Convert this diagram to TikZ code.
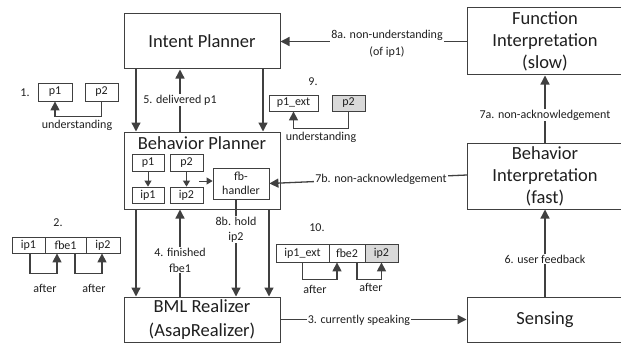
\documentclass[tikz,border=0pt]{standalone}
\usepackage{fontspec}
\setmainfont{Carlito}
\usetikzlibrary{arrows.meta,calc}
\definecolor{ln}{HTML}{404040}
\definecolor{gfill}{HTML}{D9D9D9}
\begin{document}
\begin{tikzpicture}[x=1pt,y=-1pt,
  bigbox/.style={draw=ln, line width=1pt, fill=white, inner sep=0pt, font=\fontsize{18.5}{22}\selectfont, align=center, text=black!88},
  smallbox/.style={draw=ln, line width=0.8pt, inner sep=0pt, font=\fontsize{12}{14}\selectfont, text=black!88},
  lbl/.style={font=\fontsize{12}{15}\selectfont, align=center, fill=white, inner sep=1pt, text=black!88},
  txt/.style={font=\fontsize{12}{15}\selectfont, align=center, inner sep=0pt, text=black!88},
  arr/.style={draw=ln, line width=1.3pt, -{Triangle[length=9pt,width=9pt]}},
  sarr/.style={draw=ln, line width=1pt, -{Triangle[length=6pt,width=7pt]}},
  conn/.style={draw=ln, line width=1.3pt},
]
\useasboundingbox (0,0) rectangle (621,345);

% main boxes
\node[bigbox, minimum width=156pt, minimum height=55pt] (ip) at (202,41.5) {Intent Planner};
\node[bigbox, minimum width=156pt, minimum height=77pt] (bp) at (202,170.5) {};
\node[txt, font=\fontsize{18.5}{22}\selectfont] (bpt) at (202,143) {Behavior Planner};
\node[bigbox, minimum width=156pt, minimum height=45pt, font=\fontsize{18.5}{24}\selectfont] (bml) at (202,319.5) {BML Realizer\\(AsapRealizer)};
\node[bigbox, minimum width=156pt, minimum height=67pt] (fi) at (545,41.5) {Function\\Interpretation\\(slow)};
\node[bigbox, minimum width=156pt, minimum height=66pt] (bi) at (545,176) {Behavior\\Interpretation\\(fast)};
\node[bigbox, minimum width=156pt, minimum height=45pt] (se) at (545,319.5) {Sensing};

% inside behavior planner
\node[smallbox, minimum width=32pt, minimum height=17pt] (p1) at (148,162.5) {p1};
\node[smallbox, minimum width=33pt, minimum height=17pt] (p2) at (186.5,162.5) {p2};
\node[smallbox, minimum width=32pt, minimum height=16pt] (ip1) at (148,195) {ip1};
\node[smallbox, minimum width=33pt, minimum height=16pt] (ip2) at (186.5,195) {ip2};
\node[smallbox, minimum width=56pt, minimum height=31pt, align=center] (fb) at (241,183.5) {fb-\\handler};
\draw[sarr] (p1) -- (ip1);
\draw[sarr] (p2) -- (ip2);
\coordinate (fbs) at (199,181);
\draw[sarr] (fbs) -- (fbs -| fb.west);

% x positions of vertical connectors
\coordinate (xa) at (136,0);
\coordinate (xb) at (180,0);
\coordinate (xc) at (263,0);
\coordinate (xd) at (269,0);
\coordinate (xe) at (236,0);

\draw[arr] (ip.south -| xa) -- (bp.north -| xa);
\draw[arr] (bp.north -| xb) -- (ip.south -| xb);
\draw[arr] (ip.south -| xc) -- (bp.north -| xc);
\draw[arr] (bp.south -| xa) -- (bml.north -| xa);
\draw[arr] (bml.north -| xb) -- (bp.south -| xb);
\draw[arr] (bp.south -| xd) -- (bml.north -| xd);
\draw[arr] (fb.south -| xe) -- (bml.north -| xe);

\node[lbl] (l5) at (180,100) {5. delivered p1};
\node[lbl, font=\fontsize{12}{16}\selectfont] (l4) at (180,260) {4. finished\\fbe1};
\node[lbl] (l8b) at (236,229.5) {8b. hold\\ip2};

% right side connectors
\coordinate (bw) at (467,175);
\draw[arr] (bw) -- (fb.east);
\node[lbl] (l7b) at (381,179) {7b. non-acknowledgement};
\draw[arr] (fi.west) -- (ip.east);
\node[lbl, font=\fontsize{12}{17}\selectfont] (l8a) at (387,43.5) {8a. non-understanding\\(of ip1)};
\draw[arr] (bi.north) -- (fi.south);
\node[lbl] (l7a) at (545,115) {7a. non-acknowledgement};
\draw[arr] (se.north) -- (bi.south);
\node[lbl] (l6) at (545,259) {6. user feedback};
\draw[arr] (bml.east) -- (se.west);
\node[lbl] (l3) at (359,320) {3. currently speaking};

% example 1
\node[txt] (n1) at (25,93) {1.};
\node[smallbox, minimum width=34pt, minimum height=18pt] (a1) at (55,92) {p1};
\node[smallbox, minimum width=33pt, minimum height=18pt] (a2) at (101.5,92) {p2};
\draw[arr] (a2.south) -- ++(0,15) -| (a1.south);
\node[txt] (u1) at (77,125) {understanding};

% example 9
\node[txt] (n9) at (313,82) {9.};
\node[smallbox, minimum width=49pt, minimum height=16pt] (b1) at (293.5,103) {p1\_ext};
\node[smallbox, fill=gfill, minimum width=33pt, minimum height=16pt] (b2) at (348.5,103) {p2};
\draw[arr] (b2.south) -- ++(0,17) -| (b1.south);
\node[txt] (u9) at (321,137) {understanding};

% example 2
\node[txt] (n2) at (58,223) {2.};
\node[smallbox, minimum width=33pt, minimum height=16pt] (c1) at (28.5,245) {ip1};
\node[smallbox, minimum width=41pt, minimum height=16pt] (c2) at (65.5,245) {fbe1};
\node[smallbox, minimum width=34pt, minimum height=16pt] (c3) at (103,245) {ip2};
\draw[arr] ($(c1.south)+(1.5,0)$) -- ++(0,20) -| ($(c2.south)+(-8.5,0)$);
\draw[arr] ($(c2.south)+(9.5,0)$) -- ++(0,20) -| ($(c3.south)+(-1,0)$);
\node[txt] (af1) at (45,288) {after};
\node[txt] (af2) at (94,288) {after};

% example 10
\node[txt] (n10) at (317,228) {10.};
\node[smallbox, minimum width=53pt, minimum height=18pt] (d1) at (302.5,253) {ip1\_ext};
\node[smallbox, minimum width=36pt, minimum height=18pt] (d2) at (347,253) {fbe2};
\node[smallbox, fill=gfill, minimum width=33pt, minimum height=18pt] (d3) at (381.5,253) {ip2};
\draw[arr] (d1.south) -- ++(0,17) -| ($(d2.south)+(-10,0)$);
\draw[arr] ($(d2.south)+(10,0)$) -- ++(0,17) -| (d3.south);
\node[txt] (af3) at (315,289) {after};
\node[txt] (af4) at (371,287) {after};
\end{tikzpicture}
\end{document}
